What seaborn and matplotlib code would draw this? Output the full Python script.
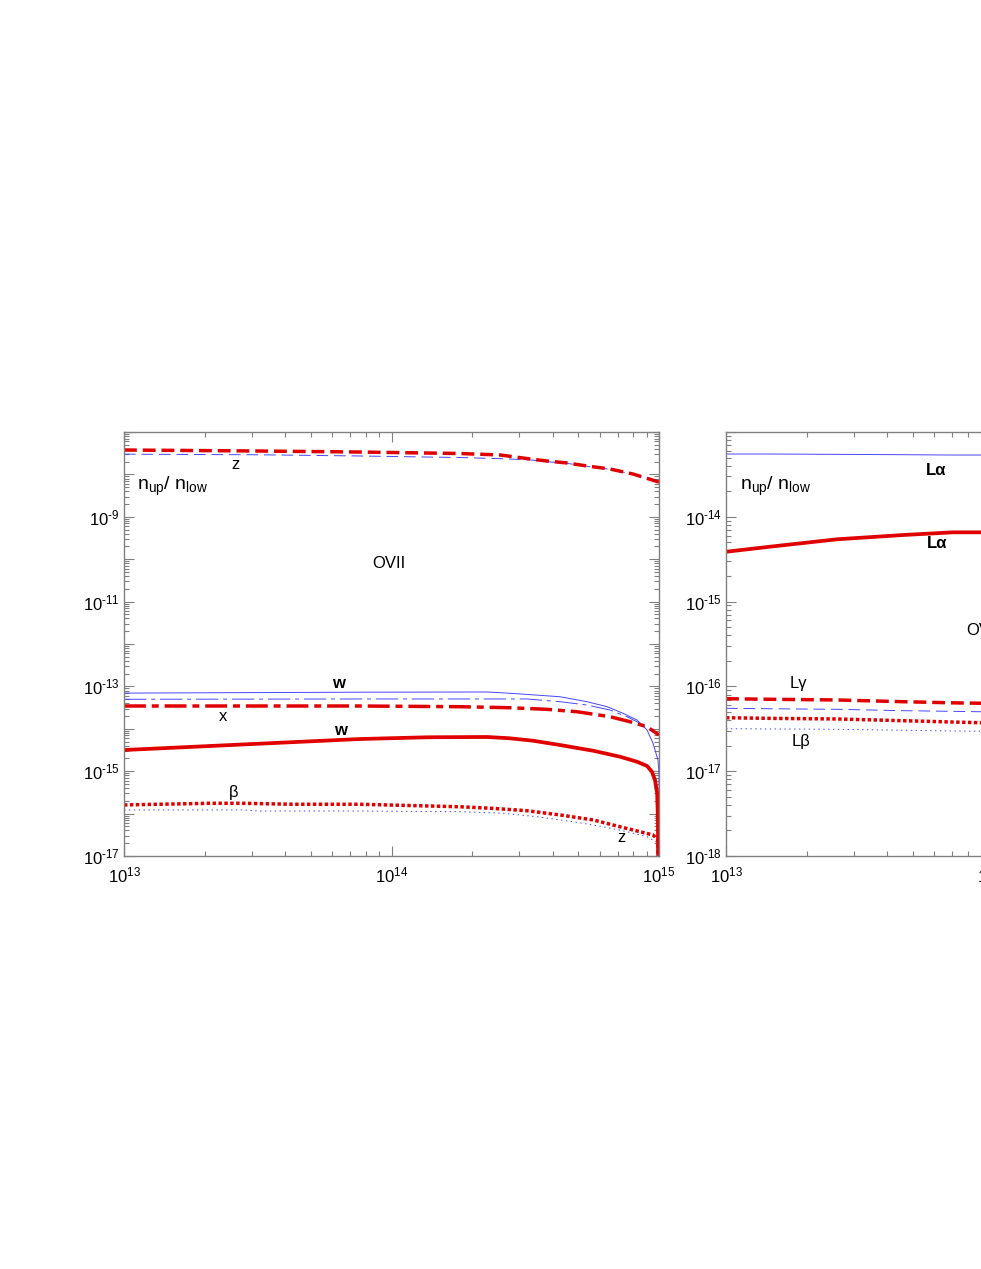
import numpy as np
import pandas as pd
import seaborn as sns
import matplotlib
matplotlib.use('Agg')
import matplotlib.pyplot as plt
from matplotlib.ticker import LogLocator, FuncFormatter, NullFormatter

# ---- OVII panel (left) ----
z_x = [1e13, 3.22e13, 7.6e13, 1.8e14, 2.55e14, 3.3e14, 3.81e14, 4.53e14, 5.38e14, 6.56e14, 8.0e14, 1e15]
z_red = [3.76e-8, 3.56e-8, 3.37e-8, 3.11e-8, 2.87e-8, 2.31e-8, 2.07e-8, 1.86e-8, 1.58e-8, 1.34e-8, 1.02e-8, 6.6e-9]
z_blue = [3.0e-8, 2.9e-8, 2.72e-8, 2.5e-8, 2.35e-8, 2.2e-8, 2.0e-8, 1.82e-8, 1.55e-8, 1.32e-8, 1.0e-8, 6.4e-9]

w_blue_x = [1e13, 7.6e13, 2.28e14, 2.77e14, 4.26e14, 5.38e14, 6.40e14, 7.34e14, 8.28e14, 9.02e14, 9.50e14, 9.91e14, 1e15, 1e15]
w_blue = [6.95e-14, 7.3e-14, 7.38e-14, 6.9e-14, 5.71e-14, 4.36e-14, 3.32e-14, 2.32e-14, 1.61e-14, 9.4e-15, 4.55e-15, 1.84e-15, 9.1e-16, 1.2e-17]

x_blue_x = [1e13, 7.6e13, 3.21e14, 4.26e14, 5.38e14, 6.56e14, 7.59e14, 8.49e14, 9.02e14, 9.84e14]
x_blue = [4.97e-14, 5.05e-14, 5.05e-14, 4.36e-14, 3.64e-14, 2.77e-14, 1.93e-14, 1.35e-14, 1.03e-14, 7.96e-15]

x_red_x = [1e13, 7.6e13, 1.8e14, 2.77e14, 3.81e14, 4.93e14, 6.56e14, 7.79e14, 9.02e14, 1e15]
x_red = [3.45e-14, 3.45e-14, 3.32e-14, 3.14e-14, 2.88e-14, 2.53e-14, 1.93e-14, 1.47e-14, 1.12e-14, 7.14e-15]

w_red_x = [1e13, 7.6e13, 1.36e14, 2.28e14, 2.77e14, 3.38e14, 4.26e14, 5.67e14, 7.14e14, 8.28e14, 9.02e14, 9.41e14, 9.66e14, 9.84e14, 9.91e14, 9.93e14]
w_red = [3.16e-15, 5.74e-15, 6.31e-15, 6.41e-15, 5.97e-15, 5.24e-15, 4.15e-15, 3.04e-15, 2.2e-15, 1.67e-15, 1.33e-15, 9.7e-16, 6.2e-16, 3.06e-16, 7.1e-17, 5e-18]

b_red_x = [1e13, 2.09e13, 2.79e13, 4.28e13, 7.6e13, 1.8e14, 2.39e14, 3.21e14, 4.26e14, 5.67e14, 7.14e14, 8.49e14, 9.5e14, 9.91e14, 9.93e14]
b_red = [1.6e-16, 1.75e-16, 1.75e-16, 1.66e-16, 1.66e-16, 1.45e-16, 1.33e-16, 1.17e-16, 9.3e-17, 7.1e-17, 4.9e-17, 3.74e-17, 3.13e-17, 2.38e-17, 5e-18]

b_blue_x = [1e13, 2.79e13, 3.22e13, 7.6e13, 1.8e14, 2.61e14, 3.5e14, 4.77e14, 6.18e14, 7.59e14, 9.02e14, 9.95e14, 1e15]
b_blue = [1.22e-16, 1.22e-16, 1.15e-16, 1.15e-16, 1.11e-16, 1.02e-16, 8.45e-17, 6.44e-17, 4.91e-17, 3.74e-17, 2.85e-17, 2.0e-17, 5e-18]

# ---- OVIII panel (right, cut off by the page) ----
r_x = [1e13, 1.46e13, 2.6e13, 4.6e13, 7.06e13, 1e14]
la_blue = [5.5e-14, 5.5e-14, 5.45e-14, 5.4e-14, 5.35e-14, 5.35e-14]
la_red = [3.87e-15, 4.44e-15, 5.43e-15, 6.10e-15, 6.56e-15, 6.56e-15]
lg_red = [7.16e-17, 7.05e-17, 6.92e-17, 6.6e-17, 6.4e-17, 6.3e-17]
lg_blue = [5.52e-17, 5.45e-17, 5.37e-17, 5.17e-17, 5.08e-17, 5.0e-17]
lb_red = [4.27e-17, 4.2e-17, 4.13e-17, 3.94e-17, 3.8e-17, 3.7e-17]
lb_blue = [3.17e-17, 3.15e-17, 3.12e-17, 3.04e-17, 2.98e-17, 2.95e-17]

RED = '#e00000'
BLUE = '#4646ff'
GRAY = '#808080'

sns.set_style('ticks')
plt.rcParams['font.family'] = ['Liberation Sans', 'DejaVu Sans']
plt.rcParams['mathtext.fontset'] = 'custom'
plt.rcParams['mathtext.rm'] = 'Liberation Sans'
plt.rcParams['mathtext.it'] = 'Liberation Sans:italic'
plt.rcParams['mathtext.bf'] = 'Liberation Sans:bold'
plt.rcParams['mathtext.default'] = 'regular'
plt.rcParams['axes.unicode_minus'] = False
plt.rcParams['text.color'] = 'black'

red_lw = 2.5
blue_lw = 0.7
styles = {
    'solid': '-',
    'dash_red': (0, (3.7, 1.7)),
    'dashdot_red': (0, (6.3, 1.7, 2.0, 1.7)),
    'dot_red': (0, (1.0, 0.7)),
    'dash_blue': (0, (12, 6)),
    'dashdot_blue': (0, (23, 5, 4, 5)),
    'dot_blue': (0, (1.5, 3.5)),
}


def draw(ax, xs, ys, color, lw, ls):
    df = pd.DataFrame({'x': xs, 'y': ys})
    sns.lineplot(data=df, x='x', y='y', ax=ax, color=color, lw=lw,
                 linestyle=ls, estimator=None, sort=False)


def power_label(v):
    e = int(round(np.log10(v)))
    return r'$10^{\text{%d}}$' % e


def style_axes(ax, ylim, label_exps):
    ax.set_xscale('log')
    ax.set_yscale('log')
    ax.set_xlim(1e13, 1e15)
    ax.set_ylim(*ylim)
    ax.set_xlabel('')
    ax.set_ylabel('')
    yfmt = lambda v, pos: (power_label(v)
                           if int(round(np.log10(v))) in label_exps else '')
    for axis in (ax.xaxis, ax.yaxis):
        axis.set_major_locator(LogLocator(base=10, numticks=30))
        axis.set_minor_locator(LogLocator(base=10, subs=np.arange(2, 10), numticks=30))
        axis.set_minor_formatter(NullFormatter())
    ax.xaxis.set_major_formatter(FuncFormatter(lambda v, pos: power_label(v)))
    ax.yaxis.set_major_formatter(FuncFormatter(yfmt))
    ax.tick_params(which='both', direction='in', top=True, right=True,
                   color=GRAY, width=0.8, labelsize=12, labelcolor='black')
    ax.tick_params(which='major', length=7)
    ax.tick_params(which='minor', length=3.5)
    ax.tick_params(axis='x', pad=7)
    ax.tick_params(axis='y', pad=3)
    for s in ax.spines.values():
        s.set_color(GRAY)
        s.set_linewidth(1.0)


fig = plt.figure(figsize=(9.81, 12.69), dpi=100)
ax1 = fig.add_axes([124 / 981, 413 / 1269, 535 / 981, 424 / 1269])
ax2 = fig.add_axes([726 / 981, 413 / 1269, 535 / 981, 424 / 1269])

# left panel
draw(ax1, z_x, z_blue, BLUE, blue_lw, styles['dash_blue'])
draw(ax1, z_x, z_red, RED, red_lw, styles['dash_red'])
draw(ax1, w_blue_x, w_blue, BLUE, blue_lw, styles['solid'])
draw(ax1, x_blue_x, x_blue, BLUE, blue_lw, styles['dashdot_blue'])
draw(ax1, x_red_x, x_red, RED, red_lw, styles['dashdot_red'])
draw(ax1, w_red_x, w_red, RED, 2.7, styles['solid'])
draw(ax1, b_blue_x, b_blue, BLUE, blue_lw, styles['dot_blue'])
draw(ax1, b_red_x, b_red, RED, red_lw, styles['dot_red'])
style_axes(ax1, (1e-17, 1e-7), [-17, -15, -13, -11, -9])

t = dict(transform=ax1.transAxes, ha='center', va='center', fontsize=12, color='black')
ax1.text(0.2093, 0.9245, 'z', **t)
ax1.text(0.4953, 0.691, 'OVII', **t)
ax1.text(0.400, 0.408, 'w', fontweight='bold', **t)
ax1.text(0.185, 0.330, 'x', **t)
ax1.text(0.404, 0.295, 'w', fontweight='bold', **t)
ax1.text(0.204, 0.149, 'β', **t)
ax1.text(0.929, 0.0425, 'z', **t)
ax1.text(0.0243, 0.863, r'$n_{up}$/ $n_{low}$', transform=ax1.transAxes,
         ha='left', va='baseline', fontsize=14, color='black')

# right panel
draw(ax2, r_x, la_blue, BLUE, blue_lw, styles['solid'])
draw(ax2, r_x, la_red, RED, 2.7, styles['solid'])
draw(ax2, r_x, lg_blue, BLUE, blue_lw, styles['dash_blue'])
draw(ax2, r_x, lg_red, RED, red_lw, styles['dash_red'])
draw(ax2, r_x, lb_blue, BLUE, blue_lw, styles['dot_blue'])
draw(ax2, r_x, lb_red, RED, red_lw, styles['dot_red'])
style_axes(ax2, (1e-18, 1e-13), [-18, -17, -16, -15, -14])

t2 = dict(transform=ax2.transAxes, ha='center', va='center', fontsize=12, color='black')
ax2.text(0.3925, 0.910, 'Lα', fontweight='bold', **t2)
ax2.text(0.394, 0.738, 'Lα', fontweight='bold', **t2)
ax2.text(0.1346, 0.406, 'Lγ', **t2)
ax2.text(0.140, 0.269, 'Lβ', **t2)
ax2.text(0.449, 0.533, 'OVIII', transform=ax2.transAxes, ha='left',
         va='center', fontsize=12, color='black')
ax2.text(0.026, 0.863, r'$n_{up}$/ $n_{low}$', transform=ax2.transAxes,
         ha='left', va='baseline', fontsize=14, color='black')

plt.savefig('out.png', dpi=100)
